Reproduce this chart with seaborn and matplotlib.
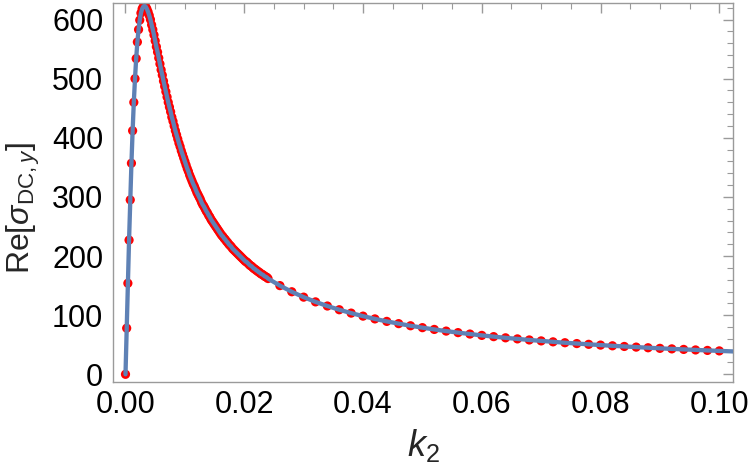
import numpy as np
import pandas as pd
import matplotlib
matplotlib.use("Agg")
import matplotlib.pyplot as plt
from matplotlib.ticker import MultipleLocator
import seaborn as sns

# dense sampling, k2 step 0.0002 from 0 to 0.024
dense_step = 0.0002
dense_vals = [
    0, 78, 154, 227, 295, 357, 412, 460, 500, 534, 562, 583, 599, 611, 618, 622,
    623, 622, 618, 613, 607, 600, 591, 583, 574, 564, 554, 545, 535, 525, 515,
    506, 496, 487, 478, 469, 460, 452, 444, 435, 428, 420, 412, 405, 398, 391,
    385, 378, 372, 366, 360, 354, 348, 343, 337, 332, 327, 322, 318, 313, 308,
    304, 300, 296, 291, 287, 284, 280, 276, 273, 269, 266, 262, 259, 256, 253,
    250, 247, 244, 241, 238, 235, 233, 230, 228, 225, 223, 220, 218, 216, 213,
    211, 209, 207, 205, 203, 201, 199, 197, 195, 193, 191, 190, 188, 186, 184,
    183, 181, 179, 178, 176, 175, 173, 172, 170, 169, 168, 166, 165, 164, 162,
]
# coarse sampling, k2 step 0.002 from 0.026 to 0.1
coarse_start = 0.026
coarse_step = 0.002
coarse_vals = [
    150, 139.6, 130.5, 122.5, 115.5, 109.2, 103.5, 98.4, 93.7, 89.5, 85.7,
    82.1, 78.9, 75.9, 73.1, 70.5, 68.1, 65.8, 63.7, 61.7, 59.9, 58.1, 56.5,
    54.9, 53.4, 52.0, 50.7, 49.4, 48.2, 47.1, 46.0, 44.9, 43.9, 43.0, 42.1,
    41.2, 40.4, 39.6,
]
# curve continues to the frame edge
line_end_k = 0.1023
line_end_val = 38.7

k_dense = np.arange(len(dense_vals)) * dense_step
k_coarse = coarse_start + np.arange(len(coarse_vals)) * coarse_step
pts = pd.DataFrame({
    "k2": np.concatenate([k_dense, k_coarse]),
    "sigma": dense_vals + coarse_vals,
})
curve = pd.concat(
    [pts, pd.DataFrame({"k2": [line_end_k], "sigma": [line_end_val]})],
    ignore_index=True,
)

sns.set_style("white")
plt.rcParams["font.family"] = ["Liberation Sans", "DejaVu Sans"]
plt.rcParams["mathtext.fontset"] = "custom"
plt.rcParams["mathtext.rm"] = "Liberation Sans"
plt.rcParams["mathtext.it"] = "Liberation Sans:italic"

frame_col = "#9a9a9a"
fig = plt.figure(figsize=(7.5, 4.73), dpi=100)
ax = fig.add_axes([0.1507, 0.1924, 0.8266, 0.8013])

sns.scatterplot(data=pts, x="k2", y="sigma", ax=ax, color="#ff0000",
                s=44, edgecolor="none", zorder=2, legend=False)
sns.lineplot(data=curve, x="k2", y="sigma", ax=ax, color="#5e81b5",
             linewidth=3.1, sort=False, estimator=None, zorder=3)

ax.set_xlim(-0.0021, 0.1023)
ax.set_ylim(-13, 628)
ax.xaxis.set_minor_locator(MultipleLocator(0.005))
ax.yaxis.set_major_locator(MultipleLocator(100))
ax.yaxis.set_minor_locator(MultipleLocator(20))
ax.set_xticks(np.arange(0, 0.101, 0.02))
ax.set_xticklabels(["0.00", "0.02", "0.04", "0.06", "0.08", "0.10"])

ax.tick_params(which="both", direction="in", top=True, right=True,
               color=frame_col, labelsize=22, labelcolor="black")
ax.tick_params(which="major", length=7, width=1)
ax.tick_params(which="minor", length=4, width=0.8)
ax.tick_params(axis="x", pad=6)
ax.tick_params(axis="y", pad=7)
for sp in ax.spines.values():
    sp.set_color(frame_col)
    sp.set_linewidth(1)

ax.set_xlabel(r"$k_2$", fontsize=26, labelpad=5)
ax.set_ylabel(r"Re[$\sigma_{\mathrm{DC},y}$]", fontsize=23)
ax.yaxis.set_label_coords(-0.114, 0.46)

fig.savefig("out.png", dpi=100)
